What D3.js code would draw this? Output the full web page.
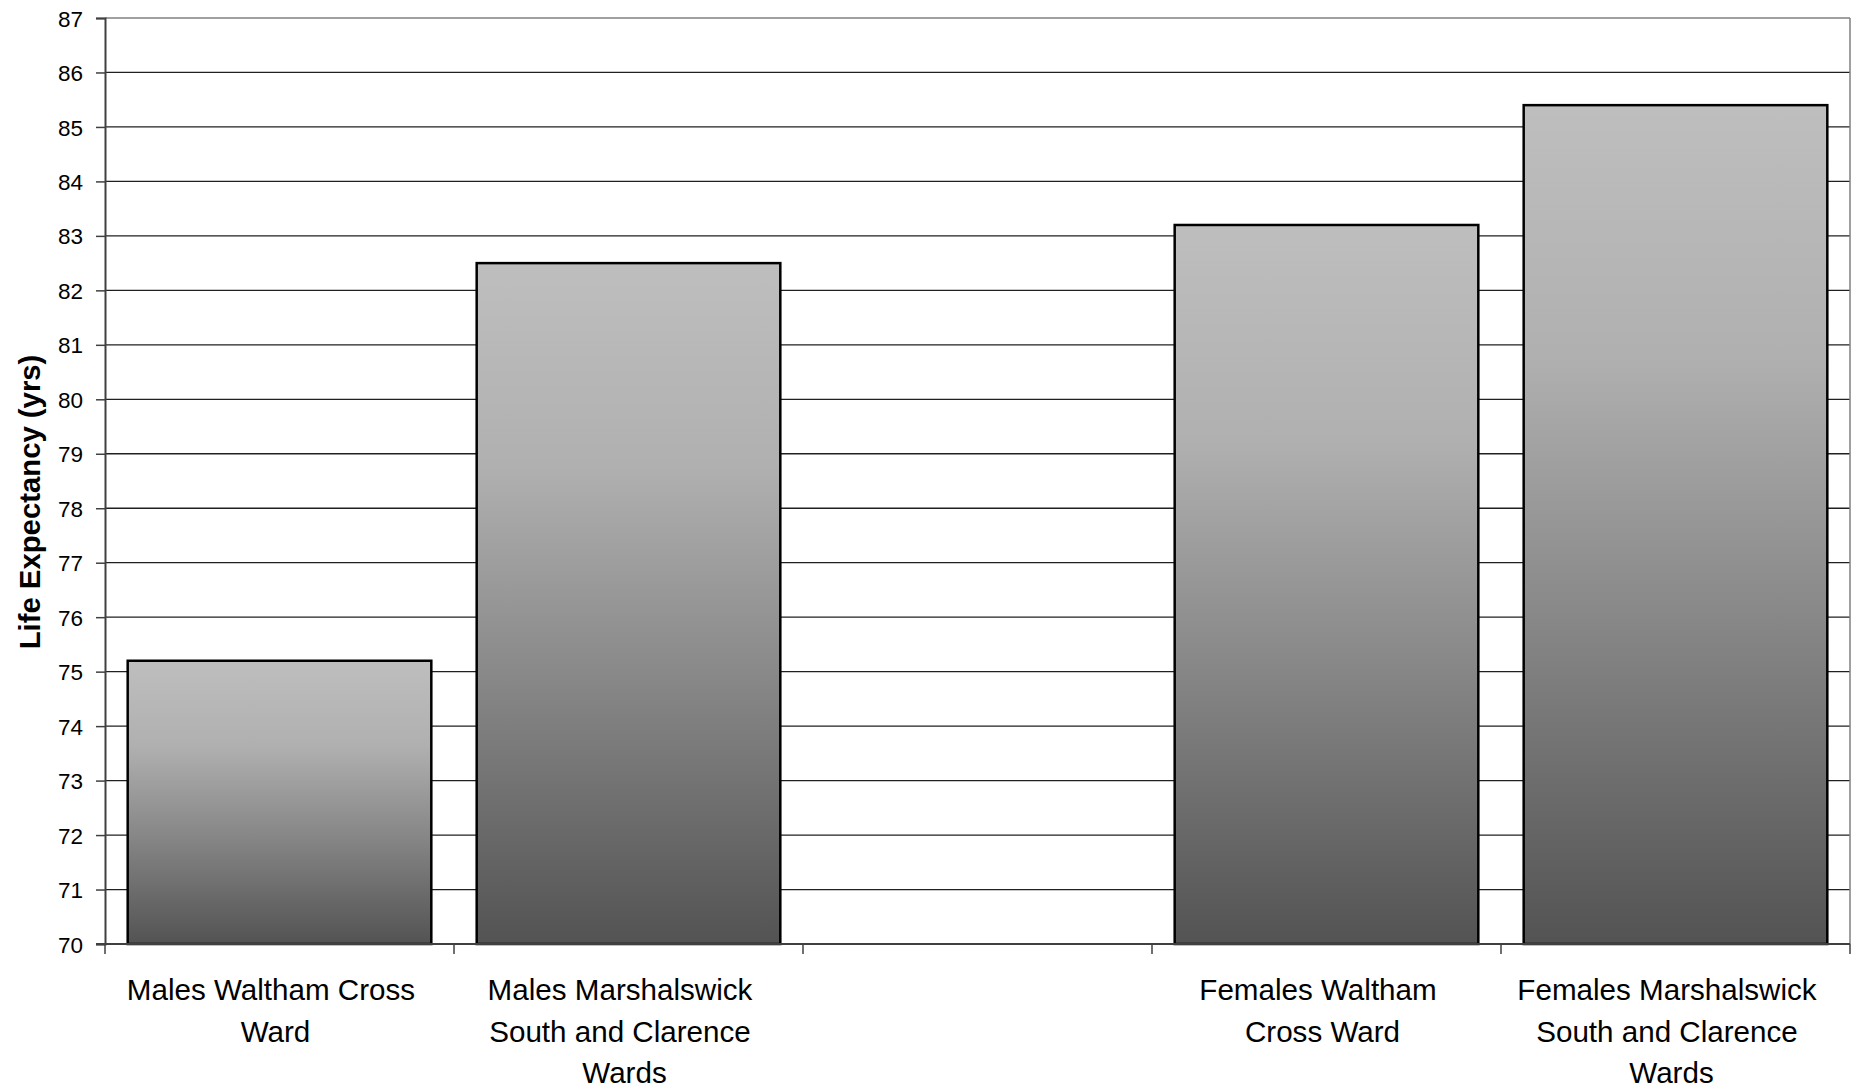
<!DOCTYPE html>
<html><head><meta charset="utf-8">
<script src="https://cdn.jsdelivr.net/npm/d3@7/dist/d3.min.js"></script>
<style>html,body{margin:0;padding:0;background:#fff;}svg{display:block;}</style>
</head><body>
<script>
const categories = ["MWC", "MMS", "GAP", "FWC", "FMS"];
const categoryLabels = [
  ["Males Waltham Cross", "Ward"],
  ["Males Marshalswick", "South and Clarence", "Wards"],
  [],
  ["Females Waltham", "Cross Ward"],
  ["Females Marshalswick", "South and Clarence", "Wards"]
];
const values = [75.2, 82.5, null, 83.2, 85.4];
const yTicks = [70,71,72,73,74,75,76,77,78,79,80,81,82,83,84,85,86,87];
const yTitle = "Life Expectancy (yrs)";

const W = 1852, H = 1090;
const L = 105, R = 1850, T = 18, B = 944;
const svg = d3.select("body").append("svg").attr("width", W).attr("height", H);
const font = "'Liberation Sans', Arial, sans-serif";

const x = d3.scaleBand().domain(categories).range([L, R]).padding(0);
const y = d3.scaleLinear().domain([70, 87]).range([B, T]);

const defs = svg.append("defs");
const grad = defs.append("linearGradient").attr("id", "barGrad")
  .attr("x1", 0).attr("y1", 0).attr("x2", 0).attr("y2", 1);
[[0, "#bebebe"], [0.3, "#b0b0b0"], [0.6, "#898989"], [1, "#535353"]].forEach(([o, c]) =>
  grad.append("stop").attr("offset", o).attr("stop-color", c));

// gridlines
svg.append("g").selectAll("line").data(yTicks.filter(t => t > 70 && t < 87)).join("line")
  .attr("x1", L).attr("x2", R).attr("y1", d => y(d)).attr("y2", d => y(d))
  .attr("stroke", "#202020").attr("stroke-width", 1.3);

// plot border top/right
svg.append("line").attr("x1", L).attr("x2", R).attr("y1", y(87)).attr("y2", y(87))
  .attr("stroke", "#808080").attr("stroke-width", 1.5);
svg.append("line").attr("x1", R).attr("x2", R).attr("y1", y(87)).attr("y2", y(70))
  .attr("stroke", "#808080").attr("stroke-width", 1.5);

// bars
const bw = x.bandwidth() * 0.87;
const off = (x.bandwidth() - bw) / 2;
svg.append("g").selectAll("rect").data(categories.map((c, i) => ({c, v: values[i]})).filter(d => d.v != null))
  .join("rect")
  .attr("x", d => x(d.c) + off).attr("width", bw)
  .attr("y", d => y(d.v)).attr("height", d => y(70) - y(d.v))
  .attr("fill", "url(#barGrad)").attr("stroke", "#000").attr("stroke-width", 2.5);

// y axis
const yAxis = svg.append("g").attr("transform", `translate(${L},0)`)
  .call(d3.axisLeft(y).tickValues(yTicks).tickSize(9).tickPadding(13).tickFormat(d3.format("d")));
yAxis.select(".domain").attr("stroke", "#404040").attr("stroke-width", 2);
yAxis.selectAll(".tick line").attr("stroke", "#404040").attr("stroke-width", 1.5);
yAxis.selectAll(".tick text").attr("font-family", font).attr("font-size", 22.5).attr("fill", "#000")
  .attr("dy", "0.36em");

// x axis
const xAxis = svg.append("g").attr("transform", `translate(0,${B})`);
xAxis.append("line").attr("x1", L - 9).attr("x2", R).attr("y1", 0).attr("y2", 0)
  .attr("stroke", "#404040").attr("stroke-width", 2);
const edges = categories.map(c => x(c)).concat([x(categories[categories.length - 1]) + x.bandwidth()]);
xAxis.selectAll(".xt").data(edges).join("line").attr("class", "xt")
  .attr("x1", d => d).attr("x2", d => d).attr("y1", 0).attr("y2", 10)
  .attr("stroke", "#404040").attr("stroke-width", 1.5);
categories.forEach((c, i) => {
  const cx = x(c) + x.bandwidth() / 2 - 4;
  const lines = categoryLabels[i];
  lines.forEach((line, j) => {
    svg.append("text").attr("x", cx - (j < lines.length - 1 ? 4.5 : 0)).attr("y", 1000 + j * 41.7)
      .attr("text-anchor", "middle").attr("font-family", font).attr("font-size", 29.6)
      .attr("fill", "#000").text(line);
  });
});

// y title
svg.append("text").attr("transform", "translate(40,502) rotate(-90)")
  .attr("text-anchor", "middle").attr("font-family", font).attr("font-weight", "bold")
  .attr("font-size", 29.3).attr("fill", "#000").text(yTitle);
</script>
</body></html>
